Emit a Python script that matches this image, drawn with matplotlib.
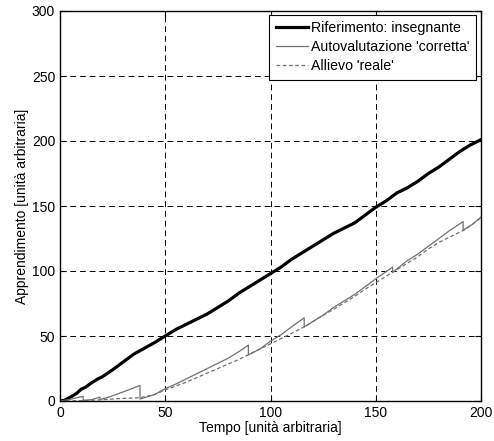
import matplotlib
matplotlib.use("Agg")
import matplotlib.pyplot as plt

plt.rcParams.update({
    "font.family": ["Liberation Sans", "DejaVu Sans"],
    "font.size": 10,
    "xtick.direction": "in",
    "ytick.direction": "in",
    "xtick.top": True,
    "ytick.right": True,
})

# ── Riferimento: insegnante ───────────────────────────────
x_ref = [0, 2, 5, 8, 10, 12, 15, 18, 20, 25, 30, 35, 40, 45, 50, 55, 60,
         65, 70, 75, 80, 85, 90, 95, 100, 105, 110, 115, 120, 125, 130,
         135, 140, 145, 150, 155, 160, 165, 170, 175, 180, 185, 190, 195, 200]
y_ref = [0, 0.5, 3, 6, 9, 10.5, 14, 17, 18.5, 24, 30, 36, 40.5, 45, 50,
         55, 59, 63, 67, 72, 77, 83, 88, 93, 98, 103, 109, 114, 119, 124,
         129, 133, 137, 143, 149, 154, 160, 164, 169, 175, 180, 186, 192,
         197, 201]

# ── Autovalutazione 'corretta' (sawtooth) ─────────────────
x_auto = [0, 4, 8, 11, 11, 15, 19, 19, 25, 30, 35, 38, 38, 45, 50, 55, 60,
          65, 70, 75, 80, 85, 89.5, 89.5, 95, 100, 105, 110, 116, 116, 120,
          125, 130, 135, 140, 145, 150, 158, 158, 165, 170, 175, 180, 185,
          191.5, 191.5, 196, 200]
y_auto = [0, 1, 2.5, 3.5, 0.5, 1, 3, 1, 4, 7, 10, 12, 1.5, 5, 9.5, 13, 17,
          21, 25, 29, 33, 38, 43, 35.5, 40, 46, 51, 57, 64, 57, 61, 66, 72,
          77, 82, 88, 94, 103, 99, 108, 113, 119, 125, 131, 138, 131.5, 136,
          141.5]

# ── Allievo 'reale' ───────────────────────────────────────
x_real = [0, 10, 20, 30, 38, 45, 50, 55, 60, 65, 70, 75, 80, 85, 90, 95,
          100, 105, 110, 116, 120, 125, 130, 135, 140, 145, 150, 155, 158,
          165, 170, 175, 180, 185, 192, 196, 200]
y_real = [0, 0.2, 1, 2, 2.5, 5, 8.5, 11.5, 14.5, 18, 21.5, 25, 28.5, 32,
          36, 40, 44, 48, 52, 57, 61, 66, 70.5, 75.5, 80.5, 86, 91, 96, 99,
          106, 111, 117, 122, 126, 131.5, 136, 141]

fig = plt.figure(figsize=(4.94, 4.41), dpi=100)
ax = fig.add_axes([60 / 494, 40 / 441, 421 / 494, 390 / 441])

ax.plot(x_ref, y_ref, color="black", linewidth=2.3,
        label="Riferimento: insegnante")
ax.plot(x_auto, y_auto, color="#707070", linewidth=0.9,
        label="Autovalutazione 'corretta'")
ax.plot(x_real, y_real, color="#707070", linewidth=0.9, linestyle=(0, (3, 2)),
        label="Allievo 'reale'")

ax.set_xlim(0, 200)
ax.set_ylim(0, 300)
ax.set_xticks([0, 50, 100, 150, 200])
ax.set_yticks([0, 50, 100, 150, 200, 250, 300])
ax.grid(True, color="black", linestyle=(0, (6, 4)), linewidth=0.7)
for s in ax.spines.values():
    s.set_linewidth(1.0)
ax.tick_params(length=4, width=0.8, colors="black", labelsize=10)

ax.set_xlabel("Tempo [unità arbitraria]", fontsize=10, labelpad=1)
ax.set_ylabel("Apprendimento [unità arbitraria]", fontsize=10, labelpad=2)

leg = ax.legend(loc="upper right", bbox_to_anchor=(0.988, 0.990),
                fontsize=10.2, handlelength=2.3, handletextpad=0.2,
                borderpad=0.45, labelspacing=0.35, borderaxespad=0,
                fancybox=False, framealpha=1, edgecolor="black")
leg.get_frame().set_linewidth(0.8)

fig.savefig("out.png", dpi=100)
